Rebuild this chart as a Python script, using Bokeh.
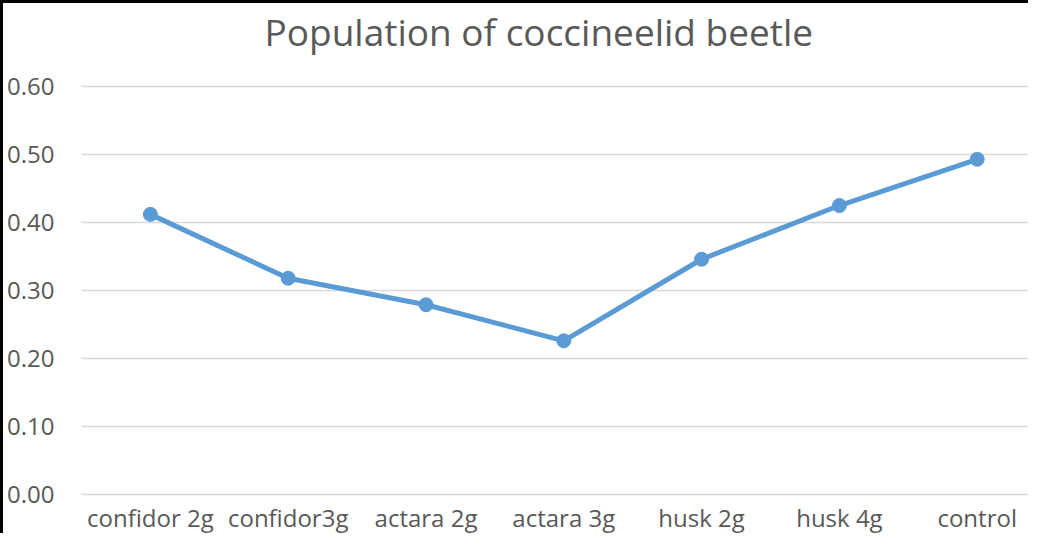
from bokeh.plotting import figure
from bokeh.models import Range1d, FixedTicker, NumeralTickFormatter, ColumnDataSource, Title
from bokeh.embed import file_html
from bokeh.resources import INLINE

categories = ["confidor 2g", "confidor3g", "actara 2g", "actara 3g", "husk 2g", "husk 4g", "control"]
values = [0.412, 0.318, 0.279, 0.226, 0.346, 0.425, 0.493]
y_ticks = [0.0, 0.1, 0.2, 0.3, 0.4, 0.5, 0.6]
title_text = "Population of coccineelid beetle"

xs = list(range(len(categories)))
src = ColumnDataSource(dict(x=xs, y=values))

W, H = 1028, 533
left_b = 78
frame_w = W - left_b
unit = 137.8

p = figure(width=W, height=H, output_backend="svg", toolbar_location=None,
           x_range=Range1d(-0.5, -0.5 + frame_w / unit), y_range=Range1d(-0.006, 0.606),
           min_border_left=left_b, min_border_right=0, min_border_top=0, min_border_bottom=0)
p.styles = {"border-left": "3px solid black", "border-top": "3px solid black"}
p.outline_line_color = None

spacer = Title(text=" ", text_font_size="10px", standoff=9)
p.add_layout(spacer, "above")
t = Title(text=title_text, align="left", offset=183, text_font="Open Sans", text_font_size="37px",
          text_font_style="normal", text_color="#595959", standoff=4, vertical_align="top")
p.add_layout(t, "above")

p.xaxis.ticker = FixedTicker(ticks=xs)
p.xaxis.major_label_overrides = {i: c for i, c in enumerate(categories)}
p.yaxis.ticker = FixedTicker(ticks=y_ticks)
p.yaxis.formatter = NumeralTickFormatter(format="0.00")
for ax in (p.xaxis, p.yaxis):
    ax.axis_line_color = None
    ax.major_tick_line_color = None
    ax.minor_tick_line_color = None
    ax.major_tick_out = 0
    ax.major_tick_in = 0
    ax.minor_tick_out = 0
    ax.minor_tick_in = 0
    ax.major_label_text_font = "Open Sans"
    ax.major_label_text_font_size = "24px"
    ax.major_label_text_color = "#595959"
p.yaxis.major_label_standoff = 27
p.xaxis.major_label_standoff = 2

p.xgrid.grid_line_color = None
p.ygrid.grid_line_color = "#D9D9D9"
p.ygrid.grid_line_width = 1.5

p.line("x", "y", source=src, line_color="#5B9BD5", line_width=5)
p.scatter("x", "y", source=src, size=14, fill_color="#5B9BD5", line_color="#5B9BD5")

open("out.html", "w").write(file_html(p, INLINE))
